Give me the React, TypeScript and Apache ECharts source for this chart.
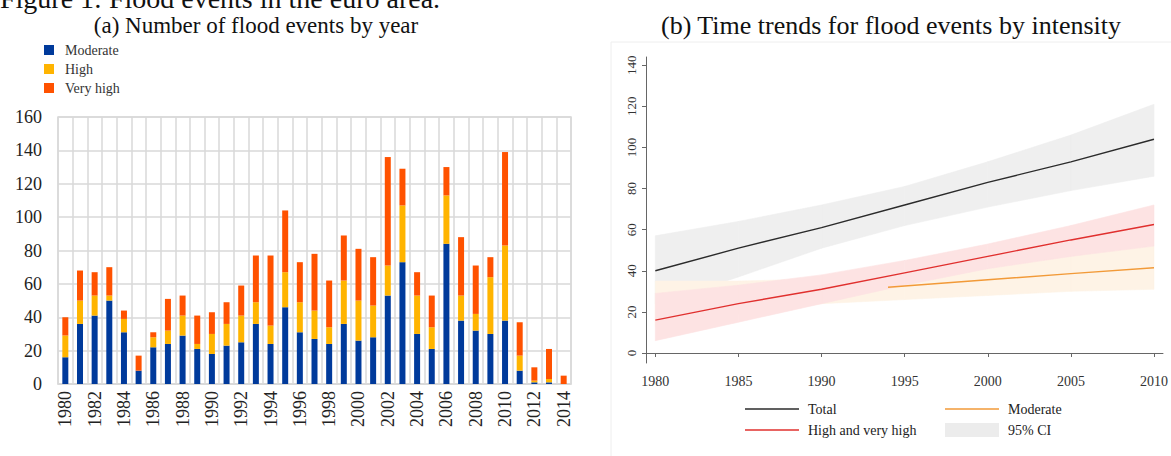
import * as echarts from 'echarts'
import { useEffect, useRef } from 'react'

const serif = 'Liberation Serif'

// (a) flood events by year, stacked by intensity
const years = [
  '1980', '1981', '1982', '1983', '1984', '1985', '1986', '1987', '1988', '1989',
  '1990', '1991', '1992', '1993', '1994', '1995', '1996', '1997', '1998', '1999',
  '2000', '2001', '2002', '2003', '2004', '2005', '2006', '2007', '2008', '2009',
  '2010', '2011', '2012', '2013', '2014',
]
const moderate = [16, 36, 41, 50, 31, 8, 22, 24, 29, 21, 18, 23, 25, 36, 24, 46, 31, 27, 24, 36, 26, 28, 53, 73, 30, 21, 84, 38, 32, 30, 38, 8, 1, 1, 0]
const high = [13, 14, 12, 3, 8, 0, 6, 8, 12, 3, 12, 13, 16, 13, 11, 21, 18, 17, 10, 26, 24, 19, 18, 34, 23, 13, 29, 15, 10, 34, 45, 9, 1, 2, 0]
const veryHigh = [11, 18, 14, 17, 5, 9, 3, 19, 12, 17, 13, 13, 18, 28, 42, 37, 24, 34, 28, 27, 31, 29, 65, 22, 14, 19, 17, 35, 29, 12, 56, 20, 8, 18, 5]

// (b) fitted trends with 95% CI
const trendYears = [1980, 1985, 1990, 1995, 2000, 2005, 2010]
const totalFit = [40, 51, 61, 72, 83, 93, 104]
const totalLow = [24, 37, 51, 62, 71, 79, 86]
const totalHigh = [57, 64, 72, 81, 93, 106, 121]
const severeFit = [16, 24, 31, 39, 47, 55, 62.5]
const severeLow = [6, 15, 24, 33, 41, 47, 52]
const severeHigh = [29, 33, 38, 45, 53, 62, 72]
const moderateYears = [1994, 2000, 2005, 2010]
const moderateFit = [32, 35.6, 38.6, 41.5]
const moderateLow = [13, 19, 24, 26, 28, 30, 31]
const moderateHigh = [35, 35, 36, 40, 44, 48, 52]
const trendTicks = [1980, 1985, 1990, 1995, 2000, 2005, 2010]
const countTicks = [0, 20, 40, 60, 80, 100, 120, 140]

const gridLine = { color: '#d9d9d9', width: 1.5 }
const axisGrey = { color: '#666', width: 1 }
const lineIcon = 'path://M0,0H54V1.4H0Z'

// CI band drawn as one quad per segment, through the axis scales
function bandSeries(name: string, low: number[], highs: number[], color: string, z: number) {
  return {
    name,
    type: 'custom',
    xAxisIndex: 1,
    yAxisIndex: 1,
    silent: true,
    z,
    itemStyle: { color },
    data: trendYears.map((year, i) => [year, low[i], highs[i]]),
    encode: { x: 0, y: [1, 2] },
    renderItem: (params: any, api: any) => {
      const i = params.dataIndex
      if (i >= trendYears.length - 1) return null
      const points = [
        api.coord([trendYears[i], highs[i]]),
        api.coord([trendYears[i + 1], highs[i + 1]]),
        api.coord([trendYears[i + 1], low[i + 1]]),
        api.coord([trendYears[i], low[i]]),
      ]
      return {
        type: 'polygon',
        shape: { points },
        style: { fill: color, stroke: color, lineWidth: 0.6 },
      }
    },
  }
}

function trendLine(name: string, xs: number[], ys: number[], color: string) {
  return {
    name,
    type: 'line',
    xAxisIndex: 1,
    yAxisIndex: 1,
    data: xs.map((year, i) => [year, ys[i]]),
    symbol: 'none',
    lineStyle: { color, width: 1.4 },
    itemStyle: { color },
    z: 10,
  }
}

function buildOption() {
  return {
    animation: false,
    backgroundColor: '#fff',
    textStyle: { fontFamily: serif },
    graphic: [
      {
        type: 'text',
        x: 0,
        y: 12,
        style: { text: 'Figure 1: Flood events in the euro area.', fontSize: 28, fontFamily: serif, fill: '#111', align: 'left', verticalAlign: 'bottom' },
      },
      {
        type: 'text',
        x: 256,
        y: 25,
        style: { text: '(a) Number of flood events by year', fontSize: 23, fontFamily: serif, fill: '#111', align: 'center', verticalAlign: 'middle' },
      },
      {
        type: 'text',
        x: 891,
        y: 25,
        style: { text: '(b) Time trends for flood events by intensity', fontSize: 26, fontFamily: serif, fill: '#111', align: 'center', verticalAlign: 'middle' },
      },
      {
        type: 'rect',
        shape: { x: 611, y: 42, width: 570, height: 430 },
        style: { fill: 'none', stroke: '#eeeeee', lineWidth: 1 },
        silent: true,
      },
    ],
    legend: [
      {
        orient: 'vertical',
        left: 44,
        top: 43,
        padding: 0,
        itemWidth: 10,
        itemHeight: 10,
        itemGap: 5,
        icon: 'rect',
        data: ['Moderate', 'High', 'Very high'],
        textStyle: { fontFamily: serif, fontSize: 14, lineHeight: 12, color: '#333', padding: [0, 0, 0, 6] },
      },
      {
        orient: 'vertical',
        left: 745,
        top: 402,
        padding: 0,
        itemWidth: 54,
        itemHeight: 14,
        itemGap: 7,
        data: [
          { name: 'Total', icon: lineIcon },
          { name: 'High and very high', icon: lineIcon },
        ],
        textStyle: { fontFamily: serif, fontSize: 14, color: '#222', padding: [0, 0, 0, 4] },
      },
      {
        orient: 'vertical',
        left: 945,
        top: 402,
        padding: 0,
        itemWidth: 54,
        itemHeight: 14,
        itemGap: 7,
        data: [
          { name: 'Moderate trend', icon: lineIcon },
          { name: '95% CI', icon: 'rect', itemStyle: { color: '#ececec' } },
        ],
        formatter: (name: string) => (name === 'Moderate trend' ? 'Moderate' : name),
        textStyle: { fontFamily: serif, fontSize: 14, color: '#222', padding: [0, 0, 0, 4] },
      },
    ],
    grid: [
      { left: 58, top: 117, width: 513, height: 267, show: true, borderColor: '#d9d9d9', borderWidth: 1.5, containLabel: false },
      { left: 646, top: 57, width: 519, height: 306, containLabel: false },
    ],
    xAxis: [
      {
        gridIndex: 0,
        type: 'category',
        data: years,
        boundaryGap: true,
        axisLine: { lineStyle: gridLine },
        axisTick: { show: false },
        axisLabel: { interval: 1, rotate: 90, fontSize: 18, color: '#222', fontFamily: serif, margin: 7 },
        splitLine: { show: true, interval: 0, lineStyle: gridLine },
      },
      {
        gridIndex: 1,
        type: 'value',
        min: 1979.44,
        max: 2010.54,
        axisLine: { lineStyle: axisGrey },
        axisTick: { length: 4, lineStyle: axisGrey, customValues: trendTicks },
        axisLabel: {
          fontSize: 14,
          color: '#333',
          fontFamily: serif,
          margin: 11,
          customValues: trendTicks,
          formatter: (value: number) => String(value),
        },
        splitLine: { show: false },
      },
    ],
    yAxis: [
      {
        gridIndex: 0,
        type: 'value',
        min: 0,
        max: 160,
        interval: 20,
        axisLine: { show: false },
        axisTick: { show: false },
        axisLabel: { fontSize: 18, color: '#222', fontFamily: serif, margin: 16 },
        splitLine: { lineStyle: gridLine },
      },
      {
        gridIndex: 1,
        type: 'value',
        min: -4.87,
        max: 144,
        axisLine: { show: true, lineStyle: axisGrey },
        axisTick: { show: true, length: 4, lineStyle: axisGrey, customValues: countTicks },
        axisLabel: { fontSize: 13, color: '#333', fontFamily: serif, rotate: 90, margin: 8, customValues: countTicks },
        splitLine: { show: false },
      },
    ],
    series: [
      { name: 'Moderate', type: 'bar', stack: 'events', data: moderate, barWidth: 6, itemStyle: { color: '#003a9b' } },
      { name: 'High', type: 'bar', stack: 'events', data: high, barWidth: 6, itemStyle: { color: '#ffb400' } },
      { name: 'Very high', type: 'bar', stack: 'events', data: veryHigh, barWidth: 6, itemStyle: { color: '#ff5200' } },
      bandSeries('95% CI', totalLow, totalHigh, '#efefef', 1),
      bandSeries('ciModerate', moderateLow, moderateHigh, '#fef3e6', 2),
      bandSeries('ciSevere', severeLow, severeHigh, '#fde3e3', 3),
      trendLine('Total', trendYears, totalFit, '#2b2b2b'),
      trendLine('High and very high', trendYears, severeFit, '#e0302e'),
      trendLine('Moderate trend', moderateYears, moderateFit, '#f29a38'),
    ],
  }
}

export default function App() {
  const ref = useRef<HTMLDivElement>(null)

  useEffect(() => {
    const element = ref.current
    if (!element) return
    const chart = echarts.init(element, null, { renderer: 'svg' })
    chart.setOption(buildOption())
    return () => chart.dispose()
  }, [])

  return <div ref={ref} style={{ position: 'absolute', left: 0, top: 0, width: 1171, height: 456 }} />
}
